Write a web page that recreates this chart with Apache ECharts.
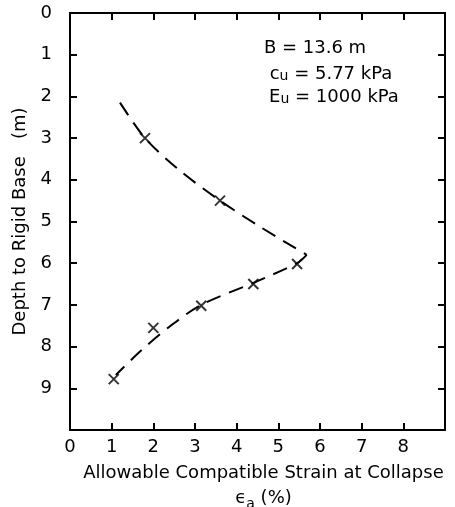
<!DOCTYPE html>
<html>
<head>
<meta charset="utf-8">
<script src="https://cdn.jsdelivr.net/npm/echarts@6/dist/echarts.min.js"></script>
<style>
  html, body { margin: 0; padding: 0; background: #fff; }
  #chart { width: 455px; height: 507px; }
</style>
</head>
<body>
<div id="chart"></div>
<script>
    // measured points (x markers)
    var strainPts = [1.05, 2.0, 3.15, 4.4, 5.45, 3.6, 1.8];
    var depthPts = [8.78, 7.55, 7.02, 6.5, 6.02, 4.5, 3.0];

    // dashed curve, upper branch
    var upperStrain = [1.2, 1.8, 2.6, 3.6, 4.6, 5.68];
    var upperDepth = [2.15, 3.0, 3.75, 4.5, 5.15, 5.8];

    // dashed curve, lower branch
    var lowerStrain = [5.68, 5.45, 4.4, 3.15, 2.35, 1.7, 1.1];
    var lowerDepth = [5.8, 6.0, 6.47, 7.0, 7.55, 8.1, 8.68];

    var xTicks = ['0', '1', '2', '3', '4', '5', '6', '7', '8'];
    var yTicks = ['0', '1', '2', '3', '4', '5', '6', '7', '8', '9'];

    var font = 'DejaVu Sans';
    var chart = echarts.init(document.getElementById('chart'));

    function pairs(xs, ys) {
        return xs.map(function (v, i) { return [v, ys[i]]; });
    }

    var frame = { show: true, onZero: false, lineStyle: { color: '#000', width: 2 } };
    var ticks = { show: true, inside: true, length: 7, lineStyle: { color: '#000', width: 2 } };
    var dash = { color: '#000', width: 2, type: [15, 9] };
    var sub = { fontSize: 14, verticalAlign: 'bottom', fontFamily: font, color: '#000' };

    var option = {
        animation: false,
        grid: { left: 70, right: 10, top: 13, bottom: 77, outerBoundsMode: 'none' },
        xAxis: [
            {
                type: 'value', min: 0, max: 9, interval: 1,
                position: 'bottom',
                axisLine: frame, axisTick: ticks, splitLine: { show: false },
                axisLabel: {
                    color: '#000', fontFamily: font, fontSize: 18, margin: 8,
                    formatter: function (v) { return xTicks[v] !== undefined ? xTicks[v] : ''; }
                },
                name: 'Allowable Compatible Strain at Collapse\nϵ{s|a} (%)',
                nameLocation: 'middle', nameGap: 30,
                nameTextStyle: {
                    color: '#000', fontFamily: font, fontSize: 18, lineHeight: 25,
                    padding: [0, 0, 0, 12],
                    rich: { s: sub }
                }
            },
            {
                type: 'value', min: 0, max: 9, interval: 1,
                position: 'top',
                axisLine: frame, axisTick: ticks, axisLabel: { show: false }, splitLine: { show: false }
            }
        ],
        yAxis: [
            {
                type: 'value', min: 0, max: 10, interval: 1, inverse: true,
                position: 'left',
                axisLine: frame, axisTick: ticks, splitLine: { show: false },
                axisLabel: {
                    color: '#000', fontFamily: font, fontSize: 18, margin: 18,
                    formatter: function (v) { return yTicks[v] !== undefined ? yTicks[v] : ''; }
                },
                name: 'Depth to Rigid Base   (m)',
                nameLocation: 'middle', nameGap: 33, nameRotate: 90,
                nameTextStyle: { color: '#000', fontFamily: font, fontSize: 18 }
            },
            {
                type: 'value', min: 0, max: 10, interval: 1, inverse: true,
                position: 'right',
                axisLine: frame, axisTick: ticks, axisLabel: { show: false }, splitLine: { show: false }
            }
        ],
        series: [
            {
                type: 'line', data: pairs(upperStrain, upperDepth),
                smooth: 0.3, showSymbol: false, lineStyle: dash
            },
            {
                type: 'line', data: pairs(lowerStrain, lowerDepth),
                smooth: 0.3, showSymbol: false, lineStyle: dash
            },
            {
                type: 'scatter',
                data: pairs(strainPts, depthPts),
                symbol: 'path://M0,0L10,10M10,0L0,10',
                symbolSize: 10,
                itemStyle: { color: 'none', borderColor: '#000', borderWidth: 2 }
            }
        ],
        graphic: [
            {
                type: 'text', x: 315, y: 48,
                style: { text: 'B = 13.6 m', fontFamily: font, fontSize: 18, fill: '#000', align: 'center', verticalAlign: 'middle' }
            },
            {
                type: 'text', x: 331, y: 74,
                style: {
                    text: 'c{s|u} = 5.77 kPa', fontFamily: font, fontSize: 18, fill: '#000',
                    align: 'center', verticalAlign: 'middle', rich: { s: sub }
                }
            },
            {
                type: 'text', x: 334, y: 97,
                style: {
                    text: 'E{s|u} = 1000 kPa', fontFamily: font, fontSize: 18, fill: '#000',
                    align: 'center', verticalAlign: 'middle', rich: { s: sub }
                }
            }
        ]
    };

    chart.setOption(option);
</script>
</body>
</html>
